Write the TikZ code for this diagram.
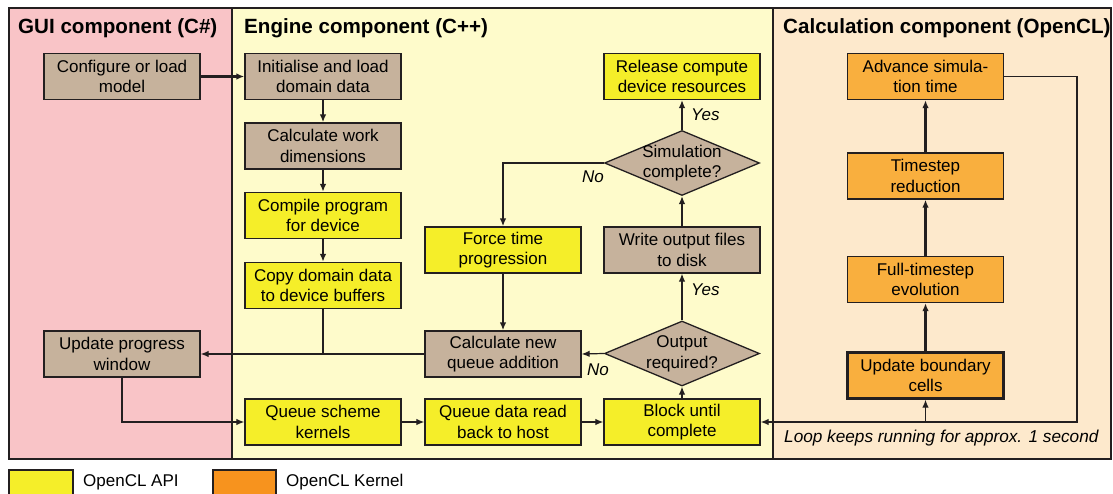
\documentclass[tikz,border=0pt]{standalone}
\usepackage{fontspec}
\setmainfont{Liberation Sans}
\usetikzlibrary{arrows.meta,shapes.geometric}
\definecolor{guibg}{HTML}{F9C4C7}
\definecolor{engbg}{HTML}{FEFBCB}
\definecolor{calcbg}{HTML}{FDE9CC}
\definecolor{hostc}{HTML}{C6B29C}
\definecolor{apic}{HTML}{F5EE29}
\definecolor{kernc}{HTML}{F9AF3E}
\definecolor{legorange}{HTML}{F7931E}
\definecolor{ink}{HTML}{231F20}
\tikzset{
  x=1pt, y=-1pt,
  box/.style={draw=ink, line width=1.3pt, minimum width=156pt, minimum height=46pt,
    inner sep=0pt, align=center, font=\fontsize{17}{20.7}\selectfont},
  hostbox/.style={box, fill=hostc},
  apibox/.style={box, fill=apic},
  kernbox/.style={box, fill=kernc},
  decision/.style={diamond, draw=ink, fill=hostc, line width=1.3pt,
    minimum width=155pt, minimum height=65pt, inner sep=0pt},
  dtext/.style={align=center, font=\fontsize{17}{20.7}\selectfont, inner sep=0pt},
  title/.style={anchor=west, font=\fontsize{20.6}{24}\selectfont\bfseries, inner sep=0pt},
  flow/.style={draw=ink, line width=1.2pt, -{Latex[length=8pt,width=6.5pt]}},
  thick flow/.style={flow, line width=2.1pt},
  plain/.style={draw=ink, line width=1.2pt},
  answer/.style={anchor=west, font=\fontsize{17}{20}\selectfont\itshape, inner sep=0pt},
  panel/.style={draw=ink, line width=1.8pt},
}
\begin{document}
\begin{tikzpicture}
\useasboundingbox (0,0) rectangle (1113,494);
\fill[white] (0,0) rectangle (1113,494);

% component panels
\filldraw[panel, fill=guibg]  (9,8) rectangle (232,459);
\filldraw[panel, fill=engbg]  (232,8) rectangle (773,459);
\filldraw[panel, fill=calcbg] (773,8) rectangle (1111,459);

\node[title] (tgui)  at (18,28)  {GUI component (C\#)};
\node[title] (teng)  at (244,28) {Engine component (C++)};
\node[title] (tcalc) at (783,28) {Calculation component (OpenCL)};

% GUI component
\node[hostbox] (cfg) at (122,76.5) {Configure or load\\model};
\node[hostbox] (upd) at (122,354)  {Update progress\\window};

% engine component
\node[hostbox] (init) at (323,76.5)  {Initialise and load\\domain data};
\node[hostbox] (work) at (323,146)   {Calculate work\\dimensions};
\node[apibox]  (comp) at (323,215.5) {Compile program\\for device};
\node[apibox]  (copy) at (323,285.5) {Copy domain data\\to device buffers};
\node[apibox]  (qsk)  at (323,422)   {Queue scheme\\kernels};
\node[apibox]  (qrd)  at (503,422)   {Queue data read\\back to host};
\node[apibox]  (blk)  at (682,422)   {Block until\\complete};
\node[hostbox] (cnq)  at (503,354)   {Calculate new\\queue addition};
\node[apibox]  (ftp)  at (503,250)   {Force time\\progression};
\node[hostbox] (wof)  at (682,250)   {Write output files\\to disk};
\node[apibox]  (rel)  at (682,76.5)  {Release compute\\device resources};
\node[decision] (outq) at (682,353.5) {};
\node[dtext] (outqt) at (outq) {Output\\required?};
\node[decision] (simq) at (682,163) {};
\node[dtext] (simqt) at (simq) {Simulation\\complete?};

% calculation component
\node[kernbox] (adv) at (925.5,76.5)  {Advance simula-\\tion time};
\node[kernbox] (tsr) at (925.5,176)   {Timestep\\reduction};
\node[kernbox] (fte) at (925.5,279.5) {Full-timestep\\evolution};
\node[kernbox, line width=2.4pt] (ubc) at (925.5,375.5) {Update boundary\\cells};
\coordinate (loopc) at (1077,422);

% connectors
\draw[thick flow] (cfg) -- (init);
\draw[thick flow] (init) -- (work);
\draw[thick flow] (work) -- (comp);
\draw[thick flow] (comp) -- (copy);
\draw[plain] (copy.south) -- (copy.south |- cnq.west);
\draw[flow] (cnq.west) -- (upd.east);
\draw[flow] (upd.south) |- (qsk.west);
\draw[flow] (qsk) -- (qrd);
\draw[flow] (qrd) -- (blk);
\draw[flow] (blk.north) -- (outq.south);
\draw[flow] (outq.north) -- (wof.south);
\draw[flow] (outq.west) -- (cnq.east);
\draw[flow] (wof.north) -- (simq.south);
\draw[flow] (simq.north) -- (rel.south);
\draw[thick flow] (simq.west) -| (ftp.north);
\draw[thick flow] (ftp) -- (cnq);

\draw[thick flow] (ubc) -- (fte);
\draw[thick flow] (fte) -- (tsr);
\draw[thick flow] (tsr) -- (adv);
\draw[flow] (adv.east) -| (loopc) -- (blk.east);
\draw[flow] (ubc.south |- loopc) -- (ubc.south);

% decision answers
\node[answer] (yes1) at (691,290) {Yes};
\node[answer] (yes2) at (691,115) {Yes};
\node[answer] (no1)  at (587,370) {No};
\node[answer] (no2)  at (582,177) {No};
\node[answer, font=\fontsize{17.2}{20}\selectfont\itshape] (loopnote) at (784,438)
  {Loop keeps running for approx. 1 second};

% legend
\filldraw[draw=ink, line width=1.3pt, fill=apic] (9,470) rectangle (73,500);
\node[anchor=west, font=\fontsize{17}{20}\selectfont, inner sep=0pt] (legapi) at (83,482) {OpenCL API};
\filldraw[draw=ink, line width=1.3pt, fill=legorange] (213,470) rectangle (276,500);
\node[anchor=west, font=\fontsize{17}{20}\selectfont, inner sep=0pt] (legkern) at (286,482) {OpenCL Kernel};
\end{tikzpicture}
\end{document}
